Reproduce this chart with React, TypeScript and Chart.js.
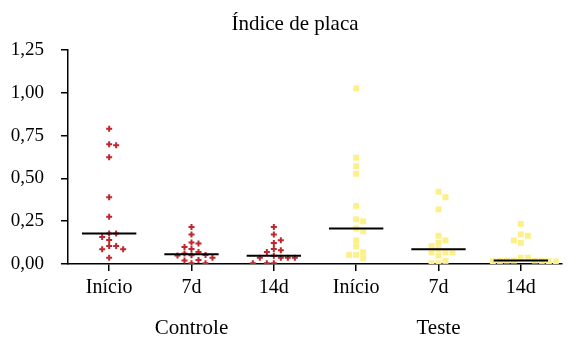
import React, { useEffect, useRef } from "react";
import { Chart, registerables } from "chart.js";

Chart.register(...registerables);

const chartTitle = "Índice de placa";
const categories = ["Início", "7d", "14d", "Início", "7d", "14d"];
const groupNames = ["Controle", "Teste"];
const groupCenters = [1, 4];
const yTicks = [0, 0.25, 0.5, 0.75, 1.0, 1.25];

const controleInicio = [0.79, 0.70, 0.693, 0.623, 0.39, 0.276, 0.178, 0.178, 0.158, 0.14, 0.105, 0.105, 0.086, 0.086, 0.037];
const controle7d = [0.216, 0.173, 0.125, 0.12, 0.10, 0.088, 0.07, 0.062, 0.053, 0.051, 0.05, 0.037, 0.024, 0.02, 0.004, 0.004];
const controle14d = [0.216, 0.173, 0.138, 0.123, 0.088, 0.08, 0.07, 0.048, 0.037, 0.037, 0.037, 0.037, 0.004, 0.004, 0.004];
const testeInicio = [1.026, 0.621, 0.571, 0.527, 0.339, 0.261, 0.249, 0.208, 0.191, 0.138, 0.103, 0.068, 0.053, 0.053, 0.033];
const teste7d = [0.422, 0.39, 0.319, 0.165, 0.138, 0.123, 0.105, 0.086, 0.068, 0.068, 0.068, 0.05, 0.018, 0.004, 0.004];
const teste14d = [0.234, 0.173, 0.165, 0.138, 0.123, 0.037, 0.037, 0.02, 0.02, 0.02, 0.018, 0.018, 0.016, 0.016, 0.015];

const controleSeries = [controleInicio, controle7d, controle14d];
const testeSeries = [testeInicio, teste7d, teste14d];

const FONT = "'Liberation Serif', 'Times New Roman', serif";
const SLOT = 0.085; // horizontal step of the dot swarm, in category units
const CLOSE = 0.035; // values closer than this collide

function swarm(values: number[], center: number) {
  const placed: { x: number; y: number; slot: number }[] = [];
  values.forEach((v) => {
    const order = [0, 1, -1, 2, -2, 3, -3, 4, -4, 5, -5];
    for (const s of order) {
      const hit = placed.some((p) => p.slot === s && Math.abs(p.y - v) < CLOSE);
      if (!hit) {
        placed.push({ x: center + s * SLOT, y: v, slot: s });
        break;
      }
    }
  });
  return placed.map((p) => ({ x: p.x, y: p.y }));
}

function median(values: number[]) {
  const s = [...values].sort((a, b) => a - b);
  const n = s.length;
  return n % 2 ? s[(n - 1) / 2] : (s[n / 2 - 1] + s[n / 2]) / 2;
}

const textPlugin = {
  id: "texts",
  afterDraw(chart: any) {
    const ctx = chart.ctx;
    const xs = chart.scales.x;
    ctx.save();
    ctx.fillStyle = "#000";
    ctx.textAlign = "center";
    ctx.textBaseline = "alphabetic";
    ctx.font = `21px ${FONT}`;
    groupNames.forEach((g, i) => {
      ctx.fillText(g, xs.getPixelForValue(groupCenters[i]), 334);
    });
    ctx.font = `21px ${FONT}`;
    ctx.fillText(chartTitle, 295, 30);
    ctx.restore();
  },
};

export default function App() {
  const ref = useRef<HTMLCanvasElement>(null);

  useEffect(() => {
    if (!ref.current) return;
    const all = [...controleSeries, ...testeSeries];
    const controlePts = controleSeries.flatMap((vals, i) => swarm(vals, i));
    const testePts = testeSeries.flatMap((vals, i) => swarm(vals, i + 3));
    const medianPts: any[] = [];
    all.forEach((vals, i) => {
      const m = median(vals);
      medianPts.push({ x: i - 0.33, y: m }, { x: i + 0.33, y: m }, { x: i + 0.4, y: null });
    });

    const chart = new Chart(ref.current, {
      type: "scatter",
      data: {
        datasets: [
          {
            label: "Mediana",
            data: medianPts,
            showLine: true,
            spanGaps: false,
            borderColor: "#000",
            borderWidth: 2,
            pointRadius: 0,
          } as any,
          {
            label: "Controle",
            data: controlePts,
            pointStyle: "cross",
            pointRadius: 3,
            borderColor: "#c0272d",
            backgroundColor: "#c0272d",
            borderWidth: 2,
          },
          {
            label: "Teste",
            data: testePts,
            pointStyle: "rect",
            pointRadius: 4.2,
            borderColor: "#fdf08a",
            backgroundColor: "#fdf08a",
            borderWidth: 0,
          },
        ],
      },
      options: {
        animation: false,
        responsive: false,
        devicePixelRatio: 1,
        layout: { padding: { top: 50, right: 0, bottom: 0, left: 0 } },
        plugins: {
          legend: { display: false },
          tooltip: { enabled: false },
          title: { display: false },
        },
        scales: {
          x: {
            type: "linear",
            min: -0.5,
            max: 5.5,
            afterBuildTicks: (scale: any) => {
              scale.ticks = categories.map((_, i) => ({ value: i }));
            },
            afterFit: (scale: any) => {
              scale.height = 75;
            },
            ticks: {
              autoSkip: false,
              maxRotation: 0,
              padding: 5,
              color: "#000",
              font: { family: FONT, size: 20 },
              callback: (v: any) => categories[Math.round(Number(v))],
            },
            grid: {
              drawOnChartArea: false,
              drawTicks: true,
              tickLength: 7,
              color: "#000",
              lineWidth: 1.5,
            },
            border: { display: true, color: "#000", width: 1.5 },
          },
          y: {
            type: "linear",
            min: 0,
            max: 1.25,
            afterBuildTicks: (scale: any) => {
              scale.ticks = yTicks.map((v) => ({ value: v }));
            },
            afterFit: (scale: any) => {
              scale.width = 68;
            },
            ticks: {
              padding: 17,
              color: "#000",
              font: { family: FONT, size: 19 },
              callback: (v: any) => Number(v).toFixed(2).replace(".", ","),
            },
            grid: {
              drawOnChartArea: false,
              drawTicks: true,
              tickLength: 7,
              color: "#000",
              lineWidth: 1.5,
            },
            border: { display: true, color: "#000", width: 1.5 },
          },
        },
      },
      plugins: [textPlugin],
    });
    return () => chart.destroy();
  }, []);

  return (
    <div style={{ position: "fixed", left: 0, top: 0, width: 568, height: 339, background: "#fff" }}>
      <canvas ref={ref} width={568} height={339} />
    </div>
  );
}
